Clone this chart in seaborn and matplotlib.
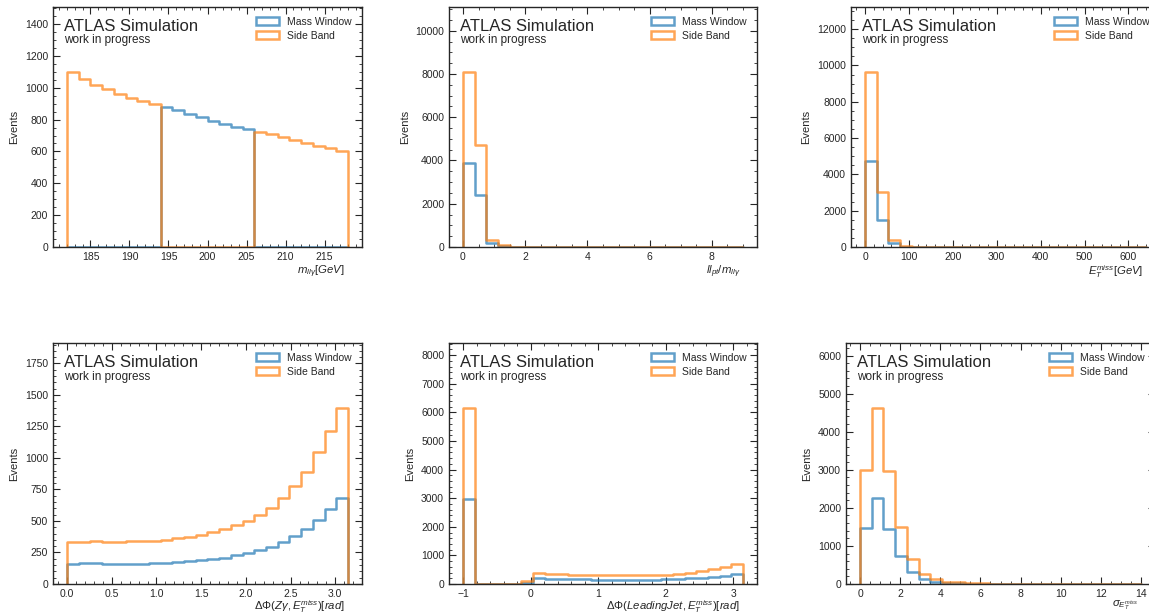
import numpy as np
import matplotlib
matplotlib.use("Agg")
import matplotlib.pyplot as plt
from matplotlib.patches import Patch
from matplotlib.ticker import MultipleLocator, AutoMinorLocator
import seaborn as sns

# bin counts, 24 bins per variable
mllg_range = (182, 218)
mllg_window = [0, 0, 0, 0, 0, 0, 0, 0,
               880, 860, 833, 815, 792, 775, 753, 740,
               0, 0, 0, 0, 0, 0, 0, 0]
mllg_sideband = [1100, 1055, 1015, 990, 963, 938, 915, 897,
                 0, 0, 0, 0, 0, 0, 0, 0,
                 725, 710, 688, 673, 655, 635, 622, 605]

ptratio_range = (0, 9)
ptratio_window = [3880, 2400, 170, 40, 8, 2] + [0] * 18
ptratio_sideband = [8100, 4730, 320, 90, 15, 5, 2] + [0] * 17

met_range = (0, 640)
met_window = [4730, 1500, 200, 25, 5, 2, 1] + [0] * 17
met_sideband = [9650, 3050, 400, 60, 12, 4, 2, 1] + [0] * 16

dphi_zg_range = (0, np.pi)
dphi_zg_window = [160, 165, 165, 160, 160, 162, 162, 165, 170, 178, 186, 194,
                  202, 210, 229, 245, 271, 293, 335, 378, 434, 511, 593, 681]
dphi_zg_sideband = [335, 332, 340, 335, 332, 338, 338, 343, 348, 362, 372, 391,
                    412, 434, 468, 503, 550, 606, 681, 777, 886, 1048, 1218, 1396]

dphi_jet_range = (-1, np.pi)
dphi_jet_window = [2980, 0, 0, 0, 0, 45,
                   195, 180, 172, 166, 160, 156, 152, 150, 150,
                   152, 157, 165, 178, 195, 218, 250, 290, 340]
dphi_jet_sideband = [6150, 0, 0, 0, 0, 100,
                     370, 352, 340, 330, 320, 312, 305, 300, 300,
                     305, 315, 332, 358, 395, 445, 510, 600, 690]

metsig_range = (0, 14)
metsig_window = [1480, 2260, 1450, 730, 310, 125, 55, 30, 15, 10, 5, 3,
                 2, 1, 1] + [0] * 9
metsig_sideband = [3000, 4620, 2980, 1510, 650, 260, 120, 65, 40, 25, 15, 10,
                   8, 5, 3, 2, 2, 1, 1] + [0] * 5

xlabels = [r"$m_{ll\gamma}[GeV]$",
           r"$ll_{pt}/m_{ll\gamma}$",
           r"$E_T^{miss}[GeV]$",
           r"$\Delta\Phi(Z\gamma, E_T^{miss})[rad]$",
           r"$\Delta\Phi(LeadingJet, E_T^{miss})[rad]$",
           r"$\sigma_{E_T^{miss}}$"]
xsteps = [5, 2, 100, 0.5, 1, 2]
ysteps = [200, 2000, 2000, 250, 1000, 1000]

panels = [
    (mllg_range, mllg_window, mllg_sideband),
    (ptratio_range, ptratio_window, ptratio_sideband),
    (met_range, met_window, met_sideband),
    (dphi_zg_range, dphi_zg_window, dphi_zg_sideband),
    (dphi_jet_range, dphi_jet_window, dphi_jet_sideband),
    (metsig_range, metsig_window, metsig_sideband),
]

sns.set_style("ticks")
plt.rcParams["font.family"] = ["Liberation Sans", "DejaVu Sans"]
plt.rcParams["mathtext.fontset"] = "custom"
plt.rcParams["mathtext.rm"] = "Liberation Sans"
plt.rcParams["mathtext.it"] = "Liberation Sans:italic"
plt.rcParams["mathtext.bf"] = "Liberation Sans:bold"
plt.rcParams.update({
    "xtick.direction": "in", "ytick.direction": "in",
    "xtick.top": True, "ytick.right": True,
    "xtick.major.size": 5, "ytick.major.size": 5,
    "xtick.minor.size": 2.5, "ytick.minor.size": 2.5,
    "xtick.major.width": 0.8, "ytick.major.width": 0.8,
    "xtick.labelsize": 7.5, "ytick.labelsize": 7.5,
    "axes.linewidth": 1.0,
})

blue = "#1f77b4"
orange = "#ff7f0e"
lw = 1.8
alpha = 0.7

fig = plt.figure(figsize=(11.49, 6.15), dpi=100)
W, H = 1149, 615
# axes boxes in pixels: left, top, right, bottom
boxes = [(53, 7, 362, 247), (449, 7, 757, 247), (851, 7, 1160, 247),
         (53, 343, 362, 584), (449, 343, 757, 584), (846, 343, 1155, 584)]

for i, ((lo, hi), window, sideband) in enumerate(panels):
    l, t, r, b = boxes[i]
    ax = fig.add_axes([l / W, 1 - b / H, (r - l) / W, (b - t) / H])

    edges = np.linspace(lo, hi, 25)
    centers = 0.5 * (edges[:-1] + edges[1:])
    eps = (hi - lo) * 1e-6
    # empty bins at each end so the outline drops to zero like a step hist
    padded = [lo - eps] + list(edges) + [hi + eps]

    for counts, color in [(window, blue), (sideband, orange)]:
        sns.histplot(x=centers, weights=np.array(counts, dtype=float),
                     bins=padded, element="step", fill=False, color=color,
                     alpha=alpha, lw=lw, ax=ax)

    span = hi - lo
    ax.set_xlim(lo - 0.05 * span, hi + 0.05 * span)
    ax.set_ylim(0, 1.37 * max(sideband))
    ax.xaxis.set_major_locator(MultipleLocator(xsteps[i]))
    ax.yaxis.set_major_locator(MultipleLocator(ysteps[i]))
    ax.xaxis.set_minor_locator(AutoMinorLocator())
    ax.yaxis.set_minor_locator(AutoMinorLocator())
    ax.tick_params(which="both", top=True, right=True, direction="in")

    ax.set_ylabel("Events", fontsize=8)
    ax.set_xlabel(xlabels[i], fontsize=8.2, ha="right")
    ax.xaxis.set_label_coords(0.945, -0.068 if i < 3 else -0.058)

    ax.text(0.035, 0.90, "ATLAS Simulation", transform=ax.transAxes,
            fontsize=12, va="baseline")
    ax.text(0.035, 0.848, "work in progress", transform=ax.transAxes,
            fontsize=8.5, va="baseline")

    handles = [Patch(facecolor="none", edgecolor=blue, lw=lw, alpha=alpha),
               Patch(facecolor="none", edgecolor=orange, lw=lw, alpha=alpha)]
    ax.legend(handles, ["Mass Window", "Side Band"], loc="upper right",
              frameon=False, fontsize=7.5, handlelength=2.2, handleheight=0.8,
              labelspacing=0.35, borderaxespad=0.55)

fig.savefig("out.png", dpi=100)
